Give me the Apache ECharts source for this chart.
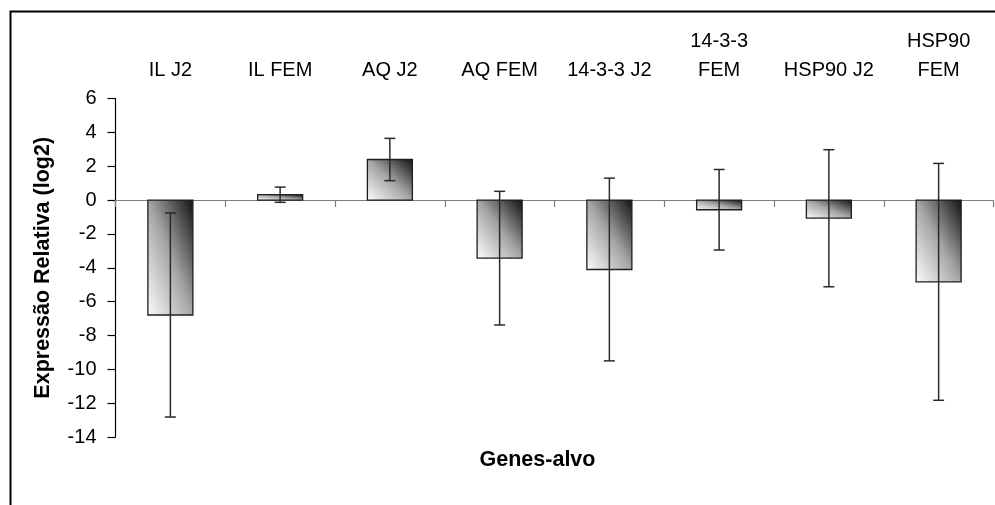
<!DOCTYPE html>
<html>
<head>
<meta charset="utf-8">
<script src="https://cdn.jsdelivr.net/npm/echarts@6/dist/echarts.min.js"></script>
<style>
  html, body { margin: 0; padding: 0; background: #fff; }
  #chart { width: 995px; height: 505px; }
</style>
</head>
<body>
<div id="chart"></div>
<script>
var categories = ['IL J2', 'IL FEM', 'AQ J2', 'AQ FEM', '14-3-3 J2', '14-3-3\nFEM', 'HSP90 J2', 'HSP90\nFEM'];
var meanValues = [-6.79, 0.32, 2.4, -3.43, -4.1, -0.57, -1.07, -4.83];
var errorValues = [6.03, 0.45, 1.25, 3.95, 5.4, 2.38, 4.05, 7.0];
var yTicks = { min: -14, max: 6, interval: 2 };

var FONT = '"Liberation Sans", Arial, sans-serif';

var barData = categories.map(function (c, i) { return [i, meanValues[i]]; });
var errData = categories.map(function (c, i) { return [i, meanValues[i], errorValues[i]]; });

function renderBar(params, api) {
  var idx = api.value(0);
  var v = api.value(1);
  var p0 = api.coord([idx, 0]);
  var p1 = api.coord([idx, v]);
  var band = api.size([1, 0])[0];
  var w = band * 0.41;
  var x = p0[0] - w / 2;
  var y = Math.min(p0[1], p1[1]);
  var h = Math.abs(p1[1] - p0[1]);
  // diagonal gradient: isolines run corner to corner (top-left to bottom-right)
  var cx = x + w / 2, cy = y + h / 2;
  var dx = h, dy = -w;
  var len2 = dx * dx + dy * dy || 1;
  var k = (w * h) / len2;
  var grad = {
    type: 'linear', global: true,
    x: cx - dx * k, y: cy - dy * k,
    x2: cx + dx * k, y2: cy + dy * k,
    colorStops: [
      { offset: 0, color: '#fbfbfb' },
      { offset: 0.5, color: '#a6a6a6' },
      { offset: 1, color: '#141414' }
    ]
  };
  return {
    type: 'rect',
    shape: { x: x, y: y, width: w, height: h },
    style: { fill: grad, stroke: '#1e1e1e', lineWidth: 1.3 }
  };
}

function renderErr(params, api) {
  var idx = api.value(0);
  var m = api.value(1);
  var e = api.value(2);
  var top = api.coord([idx, m + e]);
  var bot = api.coord([idx, m - e]);
  var cap = 5.5;
  var st = { stroke: '#2a2a2a', lineWidth: 1.5 };
  return {
    type: 'group',
    children: [
      { type: 'line', shape: { x1: top[0], y1: top[1], x2: bot[0], y2: bot[1] }, style: st },
      { type: 'line', shape: { x1: top[0] - cap, y1: top[1], x2: top[0] + cap, y2: top[1] }, style: st },
      { type: 'line', shape: { x1: bot[0] - cap, y1: bot[1], x2: bot[0] + cap, y2: bot[1] }, style: st }
    ]
  };
}

var chart = echarts.init(document.getElementById('chart'), null, { renderer: 'canvas' });
chart.setOption({
  animation: false,
  backgroundColor: '#ffffff',
  graphic: [{
    type: 'rect', left: 8, top: 9, z: -10,
    shape: { x: 0, y: 0, width: 1100, height: 700 },
    style: { fill: 'none', stroke: '#000', lineWidth: 2 }
  }],
  grid: { left: 115.5, right: 1.5, top: 98.6, bottom: 68, containLabel: false },
  xAxis: [
    {
      type: 'category', data: categories, position: 'bottom',
      axisLine: { show: true, onZero: true, lineStyle: { color: '#808080', width: 1.2 } },
      axisTick: { show: true, length: 7, alignWithLabel: false, lineStyle: { color: '#808080', width: 1.2 } },
      axisLabel: { show: false },
      splitLine: { show: false }
    },
    {
      type: 'category', data: categories, position: 'top',
      axisLine: { show: false, onZero: false },
      axisTick: { show: false },
      axisLabel: { show: true, interval: 0, margin: 14, color: '#000', fontFamily: FONT, fontSize: 20, lineHeight: 29, align: 'center' },
      splitLine: { show: false }
    },
    {
      type: 'category', data: categories, position: 'bottom',
      axisLine: { show: false, onZero: false },
      axisTick: { show: false },
      axisLabel: { show: false },
      name: 'Genes-alvo', nameLocation: 'middle', nameGap: 12,
      nameTextStyle: { color: '#000', fontFamily: FONT, fontSize: 21.5, fontWeight: 'bold', lineHeight: 22, padding: [0, 34, 0, 0] }
    }
  ],
  yAxis: {
    type: 'value', min: yTicks.min, max: yTicks.max, interval: yTicks.interval,
    axisLine: { show: true, onZero: false, lineStyle: { color: '#000', width: 1.2 } },
    axisTick: { show: true, length: 8, lineStyle: { color: '#000', width: 1.2 } },
    axisLabel: { color: '#000', fontFamily: FONT, fontSize: 20, margin: 19 },
    splitLine: { show: false },
    name: 'Expressão Relativa (log2)', nameLocation: 'middle', nameGap: 61, nameRotate: 90,
    nameTextStyle: { color: '#000', fontFamily: FONT, fontSize: 21.5, fontWeight: 'bold', lineHeight: 22 }
  },
  series: [
    {
      name: 'Expressão', type: 'custom', xAxisIndex: 0, yAxisIndex: 0,
      renderItem: renderBar, data: barData, encode: { x: 0, y: 1 }, z: 2
    },
    {
      name: 'Erro', type: 'custom', xAxisIndex: 0, yAxisIndex: 0,
      renderItem: renderErr, data: errData, encode: { x: 0, y: [1, 2] }, z: 3
    }
  ]
});
</script>
</body>
</html>
